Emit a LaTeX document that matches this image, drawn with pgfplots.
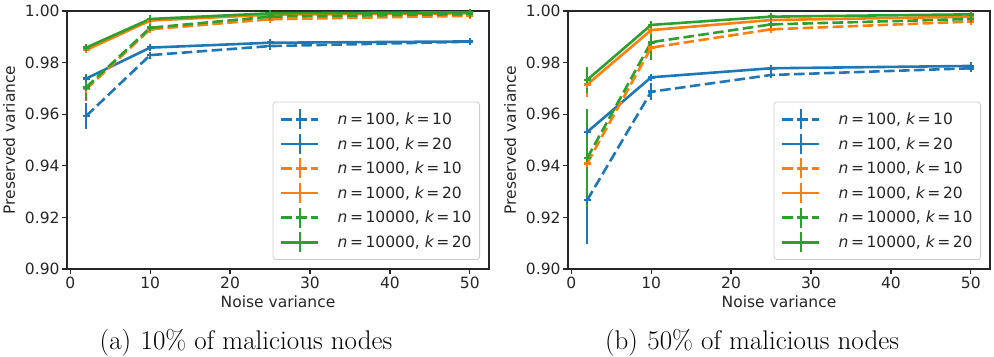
\documentclass[border=0pt]{standalone}
\usepackage{pgfplots}
\pgfplotsset{compat=1.18}
\usepackage{fontspec}
\newfontfamily\dejavu{DejaVu Sans}
\newcommand\chartfont{\dejavu\fontsize{15.5bp}{18bp}\selectfont}

\definecolor{tabblue}{HTML}{1F77B4}
\definecolor{taborange}{HTML}{FF7F0E}
\definecolor{tabgreen}{HTML}{2CA02C}

% Preserved variance vs. noise variance (x, mean, std)
\pgfplotstableread{
x y e
2  0.9593 0.0049
10 0.9829 0.0006
25 0.9864 0.0005
50 0.9881 0.0004
}\aOneTen
\pgfplotstableread{
x y e
2  0.9738 0.0013
10 0.9858 0.0004
25 0.9877 0.0003
50 0.9882 0.0003
}\aOneTwenty
\pgfplotstableread{
x y e
2  0.9697 0.0045
10 0.9929 0.0007
25 0.9968 0.0003
50 0.9981 0.0002
}\aTwoTen
\pgfplotstableread{
x y e
2  0.9849 0.0008
10 0.9963 0.0002
25 0.9986 0.0002
50 0.9991 0.0001
}\aTwoTwenty
\pgfplotstableread{
x y e
2  0.9704 0.0050
10 0.9935 0.0006
25 0.9978 0.0002
50 0.9988 0.0001
}\aThreeTen
\pgfplotstableread{
x y e
2  0.9858 0.0008
10 0.9969 0.0002
25 0.9991 0.0001
50 0.9995 0.0001
}\aThreeTwenty

\pgfplotstableread{
x y e
2  0.9267 0.0170
10 0.9687 0.0032
25 0.9752 0.0010
50 0.9778 0.0007
}\bOneTen
\pgfplotstableread{
x y e
2  0.9531 0.0080
10 0.9743 0.0008
25 0.9778 0.0004
50 0.9787 0.0003
}\bOneTwenty
\pgfplotstableread{
x y e
2  0.9410 0.0170
10 0.9858 0.0035
25 0.9929 0.0008
50 0.9959 0.0004
}\bTwoTen
\pgfplotstableread{
x y e
2  0.9715 0.0050
10 0.9926 0.0008
25 0.9965 0.0003
50 0.9978 0.0002
}\bTwoTwenty
\pgfplotstableread{
x y e
2  0.9430 0.0190
10 0.9879 0.0070
25 0.9948 0.0008
50 0.9969 0.0004
}\bThreeTen
\pgfplotstableread{
x y e
2  0.9733 0.0050
10 0.9946 0.0010
25 0.9978 0.0003
50 0.9987 0.0002
}\bThreeTwenty

\pgfplotsset{
  pvaxis/.style={
    scale only axis, width=422bp, height=258bp,
    xmin=-0.4, xmax=52.4, ymin=0.90, ymax=1.00,
    xtick={0,10,20,30,40,50},
    ytick={0.9,0.92,0.94,0.96,0.98,1},
    yticklabels={0.90,0.92,0.94,0.96,0.98,1.00},
    tick align=outside, tick pos=left, major tick length=5bp,
    axis line style={black!85, line width=1.2bp},
    every tick/.style={black!85, line width=1.2bp},
    /pgf/number format/assume math mode=true,
    every tick label/.append style={font=\chartfont, text=black!85},
    every x tick label/.append style={anchor=base, yshift=-14bp},
    every y tick label/.append style={anchor=east, xshift=1bp},
    xlabel={Noise variance}, ylabel={Preserved variance},
    every axis x label/.style={at={(axis description cs:0.5,0)}, anchor=base, yshift=-39bp, font=\chartfont, text=black!85},
    every axis y label/.style={at={(axis description cs:-0.137,0.5)}, rotate=90, anchor=center, font=\chartfont, text=black!85},
    legend style={at={(0.9787,0.035)}, anchor=south east, draw=black!20, line width=0.8bp,
      rounded corners=3bp, fill=white, fill opacity=0.8, text opacity=1,
      font=\chartfont, text=black!85, inner xsep=7bp, inner ysep=6bp, row sep=2bp,
      nodes={inner sep=1bp},
      /tikz/every odd column/.append style={column sep=17bp}},
    legend cell align=left,
    legend image code/.code={
      \draw[##1, mark=none] (0bp,0bp) -- (37bp,0bp);
      \draw[##1, mark=none, solid] (18.5bp,-10bp) -- (18.5bp,10bp);
    },
    error bars/y dir=both, error bars/y explicit, error bars/error mark=none,
    error bars/error bar style={line width=2.6bp, solid},
  },
  run/.style={line width=2.6bp, mark=+, mark size=3.5bp, mark options={solid}},
  dashrun/.style={run, dash pattern=on 10.5bp off 4.5bp},
}

\newcommand\nk[2]{{\itshape n}\,=\,#1, {\itshape k}\,=\,#2}

\begin{document}
\begin{tikzpicture}
\path[use as bounding box] (0,0) rectangle (994bp,357bp);

\begin{axis}[pvaxis, at={(67bp,88bp)}, anchor=south west]
\addplot[dashrun, tabblue] table[x=x, y=y, y error=e] {\aOneTen};
\addlegendentry{\nk{100}{10}}
\addplot[run, tabblue] table[x=x, y=y, y error=e] {\aOneTwenty};
\addlegendentry{\nk{100}{20}}
\addplot[dashrun, taborange] table[x=x, y=y, y error=e] {\aTwoTen};
\addlegendentry{\nk{1000}{10}}
\addplot[run, taborange] table[x=x, y=y, y error=e] {\aTwoTwenty};
\addlegendentry{\nk{1000}{20}}
\addplot[dashrun, tabgreen] table[x=x, y=y, y error=e] {\aThreeTen};
\addlegendentry{\nk{10000}{10}}
\addplot[run, tabgreen] table[x=x, y=y, y error=e] {\aThreeTwenty};
\addlegendentry{\nk{10000}{20}}
\end{axis}

\begin{axis}[pvaxis, at={(568bp,88bp)}, anchor=south west]
\addplot[dashrun, tabblue] table[x=x, y=y, y error=e] {\bOneTen};
\addlegendentry{\nk{100}{10}}
\addplot[run, tabblue] table[x=x, y=y, y error=e] {\bOneTwenty};
\addlegendentry{\nk{100}{20}}
\addplot[dashrun, taborange] table[x=x, y=y, y error=e] {\bTwoTen};
\addlegendentry{\nk{1000}{10}}
\addplot[run, taborange] table[x=x, y=y, y error=e] {\bTwoTwenty};
\addlegendentry{\nk{1000}{20}}
\addplot[dashrun, tabgreen] table[x=x, y=y, y error=e] {\bThreeTen};
\addlegendentry{\nk{10000}{10}}
\addplot[run, tabgreen] table[x=x, y=y, y error=e] {\bThreeTwenty};
\addlegendentry{\nk{10000}{20}}
\end{axis}

\node[anchor=base, font=\fontsize{27bp}{31bp}\selectfont] at (246bp,8bp) {(a)\hspace{0.35em}10\% of malicious nodes};
\node[anchor=base, font=\fontsize{27bp}{31bp}\selectfont] at (752bp,8bp) {(b)\hspace{0.35em}50\% of malicious nodes};
\end{tikzpicture}
\end{document}
